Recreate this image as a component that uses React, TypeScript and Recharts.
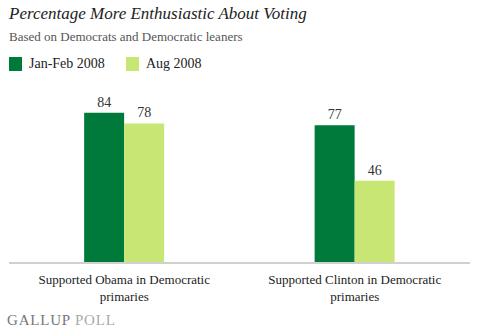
import React from 'react';
import { BarChart, Bar, XAxis, YAxis, LabelList } from 'recharts';

const categories = ['Supported Obama in Democratic primaries', 'Supported Clinton in Democratic primaries'];
const janFeb = [84, 77];
const aug = [78, 46];

const data = categories.map((name, i) => ({ name, janFeb: janFeb[i], aug: aug[i] }));

const DARK = '#007A3B';
const LIGHT = '#C8E673';
const FONT = '"Liberation Serif", "DejaVu Serif", Georgia, serif';

function WrappedTick({ x, y, payload }: any) {
  const words = String(payload.value).split(' ');
  const first = words.slice(0, -1).join(' ');
  const last = words[words.length - 1];
  return (
    <g transform={`translate(${x},${y})`}>
      <text textAnchor="middle" fill="#222" fontSize={13} fontFamily={FONT}>
        <tspan x={0} dy={13}>{first}</tspan>
        <tspan x={0} dy={17}>{last}</tspan>
      </text>
    </g>
  );
}

export default function App() {
  return (
    <div style={{ position: 'absolute', left: 0, top: 0, width: 477, height: 334, background: '#fff', fontFamily: FONT }}>
      <div style={{ position: 'absolute', left: 9, top: 4, fontSize: 17, fontStyle: 'italic', color: '#222', whiteSpace: 'nowrap' }}>
        Percentage More Enthusiastic About Voting
      </div>
      <div style={{ position: 'absolute', left: 9, top: 29, fontSize: 13, color: '#555', whiteSpace: 'nowrap' }}>
        Based on Democrats and Democratic leaners
      </div>
      <div style={{ position: 'absolute', left: 9, top: 56, display: 'flex', alignItems: 'center', fontSize: 14, color: '#222' }}>
        <span style={{ width: 13, height: 14, background: DARK, display: 'inline-block', marginRight: 7 }} />
        <span style={{ width: 97 }}>Jan-Feb 2008</span>
        <span style={{ width: 13, height: 14, background: LIGHT, display: 'inline-block', marginRight: 7 }} />
        <span>Aug 2008</span>
      </div>
      <div style={{ position: 'absolute', left: 7, top: 312, fontSize: 15, color: '#777', whiteSpace: 'nowrap', letterSpacing: 0.8 }}>
        GALLUP <span style={{ color: '#aaa' }}>POLL</span>
      </div>
      <div style={{ position: 'absolute', left: 0, top: 0 }}>
        <BarChart
          width={477}
          height={334}
          data={data}
          margin={{ top: 84, right: 7, bottom: 21, left: 9 }}
          barGap={0}
          barCategoryGap="32.6%"
        >
          <XAxis
            dataKey="name"
            axisLine={{ stroke: '#d0d0d0', strokeWidth: 2 }}
            tickLine={false}
            height={50}
            interval={0}
            tick={<WrappedTick />}
          />
          <YAxis hide domain={[0, 100]} />
          <Bar dataKey="janFeb" fill={DARK} isAnimationActive={false}>
            <LabelList dataKey="janFeb" position="top" offset={6} fill="#333" fontSize={14} fontFamily={FONT} />
          </Bar>
          <Bar dataKey="aug" fill={LIGHT} isAnimationActive={false}>
            <LabelList dataKey="aug" position="top" offset={6} fill="#333" fontSize={14} fontFamily={FONT} />
          </Bar>
        </BarChart>
      </div>
    </div>
  );
}
